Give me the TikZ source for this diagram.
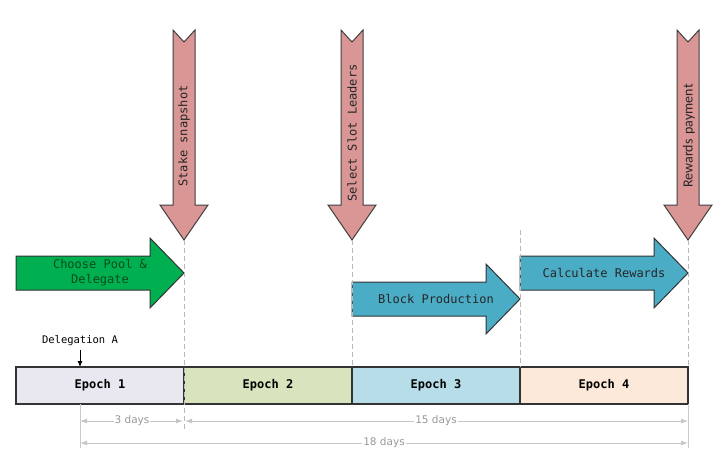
\documentclass[tikz,border=0pt]{standalone}
\usepackage{fontspec}
\setmonofont{DejaVu Sans Mono}
\setsansfont{DejaVu Sans}
\newfontfamily\calfont{Carlito}
\usetikzlibrary{arrows.meta, positioning}
\definecolor{snapred}{HTML}{D99694}
\definecolor{poolgreen}{HTML}{00B050}
\definecolor{pooltext}{HTML}{0B4A1C}
\definecolor{prodblue}{HTML}{4BACC6}
\definecolor{epochA}{HTML}{E9E8F1}
\definecolor{epochB}{HTML}{D7E4BD}
\definecolor{epochC}{HTML}{B7DEE8}
\definecolor{epochD}{HTML}{FDE9D9}
\tikzset{
  epoch/.style={draw=black!80, line width=1.2pt, outer sep=0pt, inner sep=0pt,
    minimum width=168pt, minimum height=37pt,
    font=\ttfamily\bfseries\fontsize{12}{14}\selectfont},
  downlbl/.style={rotate=90, text=black!85, font=\ttfamily\fontsize{12}{14}\selectfont},
  rightlbl/.style={align=center, font=\ttfamily\fontsize{12}{15}\selectfont},
  guide/.style={gray!55, line width=0.9pt, dash pattern=on 5pt off 3pt},
  dim/.style={gray!45, line width=0.9pt, {Latex[length=7pt,width=5pt]}-{Latex[length=7pt,width=5pt]}},
  dimlbl/.style={fill=white, inner sep=1pt, text=gray!80, font=\sffamily\fontsize{10.5}{12}\selectfont}
}
\begin{document}
\begin{tikzpicture}[x=1pt,y=-1pt]
\useasboundingbox[fill=white] (0,0) rectangle (716,459);
% epochs
\node[epoch, fill=epochA] (e1) at (100,385.5) {Epoch 1};
\node[epoch, fill=epochB, right=0pt of e1] (e2) {Epoch 2};
\node[epoch, fill=epochC, right=0pt of e2] (e3) {Epoch 3};
\node[epoch, fill=epochD, right=0pt of e3] (e4) {Epoch 4};
% down arrows
\foreach \cx/\i in {184/1,352/2,688/3}{
\draw[fill=snapred, draw=black!75, line width=1pt, line join=miter]
  ({\cx-11},30) -- (\cx,42) -- ({\cx+11},30) -- ({\cx+11},205) -- ({\cx+24},205)
  -- (\cx,240) -- ({\cx-24},205) -- ({\cx-11},205) -- cycle;
\coordinate (tip\i) at (\cx,240);
}
\node[downlbl] (snap) at (184,136) {Stake snapshot};
\node[downlbl] (slot) at (352,133) {Select Slot Leaders};
\node[downlbl, font=\calfont\fontsize{14}{16}\selectfont] (pay) at (689,136) {Rewards\hspace{5pt}payment};
% right arrows
\foreach \xa/\cy/\c in {16/273/poolgreen,352/299/prodblue,520/273/prodblue}
\draw[fill=\c, draw=black!80, line width=1pt, line join=miter]
  (\xa,{\cy-17}) -- ({\xa+134},{\cy-17}) -- ({\xa+134},{\cy-35}) -- ({\xa+168},\cy)
  -- ({\xa+134},{\cy+35}) -- ({\xa+134},{\cy+17}) -- (\xa,{\cy+17}) -- cycle;
\node[rightlbl, text=pooltext] (pool) at (100,273) {Choose Pool \&\\Delegate};
\node[rightlbl, text=black!85] (block) at (436,299) {Block Production};
\node[rightlbl, text=black!85] (calc) at (604,273) {Calculate Rewards};
% guides
\draw[guide] (tip1) -- (184,432);
\draw[guide] (tip2) -- (e2.north east);
\draw[guide] (520,230) -- (e3.north east);
\draw[guide] (tip3) -- (e4.north east);
\draw[gray!40, line width=0.9pt] (e4.south east) -- ++(0,44);
\draw[gray!40, line width=0.9pt] (80,404) -- (80,448);
% delegation
\node[font=\ttfamily\fontsize{10.5}{12}\selectfont] (dlg) at (80,341) {Delegation A};
\draw[-{Latex[length=6pt,width=5pt]}, line width=0.9pt] (dlg) -- (dlg |- e1.north);
% durations
\draw[dim, shorten >=1pt] (80,421) -- node[dimlbl] {3 days} (184,421);
\draw[dim, shorten <=1pt] (184,421) -- node[dimlbl] {15 days} (688,421);
\draw[dim] (80,443) -- node[dimlbl] {18 days} (688,443);
\end{tikzpicture}
\end{document}
